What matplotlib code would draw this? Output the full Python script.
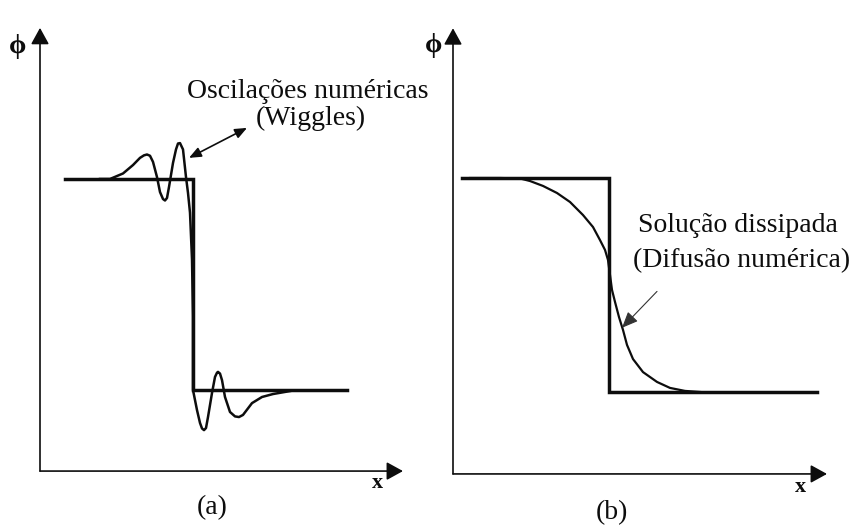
import matplotlib.pyplot as plt

plt.rcParams['font.family'] = ['Liberation Serif', 'DejaVu Serif']

# ---- (a) degrau exato + solução com oscilações numéricas ----
step_a_x = [2.5, 15.3, 15.3, 30.7]
step_a_phi = [1.0, 1.0, 0.0, 0.0]

wiggle_x = [6.0, 7.0, 8.3, 9.3, 10.0, 10.4, 10.7, 11.0, 11.3, 11.7, 12.0, 12.3,
            12.5, 12.7, 12.9, 13.3, 13.6, 13.8, 14.0, 14.3, 14.6, 14.8, 15.0,
            15.2, 15.3, 15.3, 15.7, 16.0, 16.2, 16.4, 16.6, 16.8, 17.2, 17.5, 17.7,
            17.8, 18.0, 18.2, 18.5, 19.0, 19.5, 19.9, 20.3, 21.2, 22.2, 23.3, 25.0]
wiggle_phi = [1.0, 1.0, 1.026, 1.066, 1.10, 1.112, 1.116, 1.110, 1.081, 1.009,
              0.938, 0.905, 0.898, 0.910, 0.962, 1.076, 1.140, 1.168, 1.170,
              1.140, 1.009, 0.934, 0.84, 0.62, 0.35, 0.0, -0.095, -0.156, -0.182,
              -0.190, -0.180, -0.128, -0.014, 0.062, 0.082, 0.086, 0.078, 0.047,
              -0.033, -0.104, -0.125, -0.128, -0.118, -0.062, -0.033, -0.019, -0.005]

# ---- (b) degrau exato + solução dissipada ----
step_b_x = [0.9, 15.6, 15.6, 36.4]
step_b_phi = [1.0, 1.0, 0.0, 0.0]

diffuse_x = [1.7, 4.7, 6.7, 7.7, 9.0, 10.4, 11.7, 13.0, 14.0, 14.7, 15.2, 15.5,
             15.7, 15.9, 16.2, 16.6, 17.0, 17.4, 18.0, 19.0, 20.4, 21.7, 23.2, 24.7]
diffuse_phi = [1.0, 1.0, 0.998, 0.986, 0.963, 0.93, 0.888, 0.827, 0.771, 0.71,
               0.664, 0.617, 0.547, 0.477, 0.421, 0.35, 0.29, 0.22, 0.154,
               0.093, 0.047, 0.019, 0.005, 0.0]

ink = '#0d0d0d'

fig = plt.figure(figsize=(8.51, 5.27), dpi=100)
ax_a = fig.add_axes([0, 0, 430 / 851, 1])
ax_b = fig.add_axes([430 / 851, 0, 421 / 851, 1])

ax_a.set_xlim(-4.0, 39.0)
ax_a.set_ylim(-0.649, 1.848)
ax_b.set_xlim(-2.3, 39.8)
ax_b.set_ylim(-0.631, 1.832)


def eixos(ax, y0, ytop, xtip):
    head = dict(arrowstyle='-|>,head_length=0.4,head_width=0.22',
                mutation_scale=25, color=ink, lw=1.2, shrinkA=0, shrinkB=0)
    ax.annotate('', xy=(0, ytop), xytext=(0, y0), arrowprops=head)
    ax.annotate('', xy=(xtip, y0), xytext=(0, y0), arrowprops=head)


def texto(ax, x, y, s, size=20, **kw):
    ax.text(x, y, s, fontsize=size, ha='center', va='center', color=ink, **kw)


for ax in (ax_a, ax_b):
    ax.axis('off')

# painel (a)
eixos(ax_a, -0.384, 1.716, 36.3)
ax_a.plot(step_a_x, step_a_phi, color=ink, lw=2.5, solid_joinstyle='miter')
ax_a.plot(wiggle_x, wiggle_phi, color=ink, lw=1.8, solid_joinstyle='round')
ax_a.annotate('', xy=(14.9, 1.10), xytext=(20.7, 1.242),
              arrowprops=dict(arrowstyle='<|-|>,head_length=0.6,head_width=0.25',
                              mutation_scale=12, color=ink, lw=1.2,
                              shrinkA=0, shrinkB=0))
texto(ax_a, 26.8, 1.416, 'Oscilações numéricas')
texto(ax_a, 27.1, 1.286, '(Wiggles)')
texto(ax_a, -2.2, 1.63, 'ϕ', fontweight='bold')
texto(ax_a, 33.7, -0.442, 'x', size=16, fontweight='bold')
texto(ax_a, 17.2, -0.555, '(a)')

# painel (b)
eixos(ax_b, -0.383, 1.70, 37.4)
ax_b.plot(step_b_x, step_b_phi, color=ink, lw=2.5, solid_joinstyle='miter')
ax_b.plot(diffuse_x, diffuse_phi, color=ink, lw=1.6)
ax_b.annotate('', xy=(16.9, 0.30), xytext=(20.4, 0.47),
              arrowprops=dict(arrowstyle='-|>,head_length=0.7,head_width=0.3',
                              mutation_scale=14, color='#333333', lw=0.8,
                              shrinkA=0, shrinkB=0))
texto(ax_b, 28.5, 0.78, 'Solução dissipada')
texto(ax_b, 28.9, 0.616, '(Difusão numérica)')
texto(ax_b, -1.9, 1.62, 'ϕ', fontweight='bold')
texto(ax_b, 34.7, -0.444, 'x', size=16, fontweight='bold')
texto(ax_b, 15.9, -0.565, '(b)')

fig.savefig('out.png', dpi=100, facecolor='white')
